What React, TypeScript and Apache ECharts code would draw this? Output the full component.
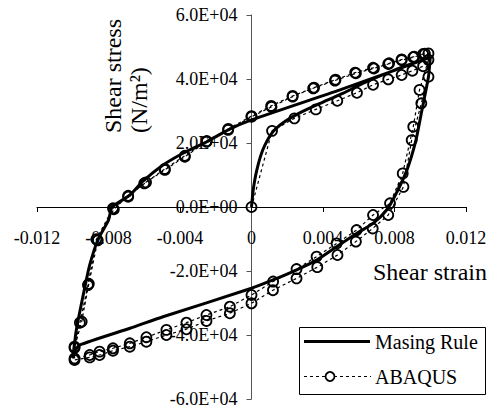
import React, { useEffect, useRef } from "react";
import * as echarts from "echarts";

// ---- axis ticks ----
const xTickLabels = ["-0.012", "-0.008", "-0.004", "0", "0.004", "0.008", "0.012"];
const yTickLabels = ["-6.0E+04", "-4.0E+04", "-2.0E+04", "0.0E+00", "2.0E+04", "4.0E+04", "6.0E+04"];
const xMin = -0.012, xMax = 0.012, xStep = 0.004;
const yMin = -60000, yMax = 60000, yStep = 20000;

// ---- Masing Rule (solid) : [strain, stress] ----
const masingBackbone = [
  [0, 0], [0.0001, 5500], [0.0003, 11600], [0.00063, 17800], [0.00114, 23100],
  [0.00175, 26250], [0.0027, 29400], [0.0038, 32300], [0.0051, 35500],
  [0.0065, 39300], [0.008, 42800], [0.01, 46800],
];
const masingUnload = [
  [0.01, 46800], [0.0099, 40700], [0.0095, 29300], [0.0092, 20900], [0.0087, 11600],
  [0.0081, 4300], [0.00756, -940], [0.0068, -5100], [0.0059, -8200], [0.00476, -12400],
  [0.00364, -16600], [0.0025, -19700], [0.0012, -22800], [0, -25400],
  [-0.00495, -34300], [-0.0068, -37900], [-0.0096, -43100], [-0.0099, -45000], [-0.01, -47300],
];
const masingReload = [
  [-0.01, -47300], [-0.0098, -38400], [-0.0093, -24400], [-0.00905, -18100],
  [-0.0086, -10300], [-0.008, -4100], [-0.0078, 0], [-0.0068, 3750], [-0.0061, 7900],
  [-0.00495, 13100], [-0.00383, 16800], [-0.0025, 20400], [-0.0013, 24100], [0, 27200],
  [0.00495, 36600], [0.008, 42700], [0.01, 46800],
];

// ---- ABAQUS (dashed + circles) : [strain, stress] ----
const abaqusInitial = [
  [0, 0], [0.00115, 23800], [0.0024, 27700], [0.0036, 30500], [0.0048, 33200],
  [0.0059, 35700], [0.0068, 38200], [0.00765, 39900], [0.0084, 41250], [0.009, 42600],
  [0.0096, 44000], [0.0099, 46000],
];
const abaqusUnload1 = [
  [0.0094, 36600], [0.00905, 25100], [0.00846, 10500], [0.00775, 1150], [0.0068, -2500],
  [0.00588, -7200], [0.00476, -11400], [0.00364, -15500], [0.00252, -19400],
  [0.00121, -23300], [0, -27500], [-0.00121, -31150], [-0.00252, -33750],
  [-0.00364, -36150], [-0.00476, -38400], [-0.00588, -40700], [-0.00681, -42600],
  [-0.00775, -44150], [-0.0085, -45200], [-0.00905, -46250], [-0.0099, -47300],
];
const abaqusReload1 = [
  [-0.0099, -43650], [-0.0096, -36150], [-0.00915, -24400], [-0.00868, -10100],
  [-0.00775, -400], [-0.0069, 3200], [-0.006, 7400], [-0.00485, 11600], [-0.00373, 15700],
  [-0.00252, 20400], [-0.00131, 24100], [0, 28200], [0.00112, 31300], [0.0023, 34500],
  [0.00345, 37100], [0.00467, 39500], [0.00584, 41800], [0.00685, 43300],
  [0.00765, 44700], [0.0084, 45900], [0.00905, 46800], [0.0096, 47800], [0.0099, 48000],
];
const abaqusUnload2 = [
  [0.0099, 40700], [0.0095, 32400], [0.00896, 20900], [0.0085, 6300], [0.00765, -2500],
  [0.00678, -6700], [0.00584, -10800], [0.00481, -15000], [0.00368, -18800],
  [0.00252, -22300], [0.0012, -26000], [0, -30100], [-0.00121, -33200],
  [-0.00252, -35600], [-0.00364, -38200], [-0.00476, -40000], [-0.00588, -42100],
  [-0.00681, -43650], [-0.00775, -44900], [-0.0085, -46250], [-0.00905, -47000],
  [-0.0099, -47800],
];
const abaqusReload2 = [
  [-0.0099, -44000], [-0.0095, -35800], [-0.0091, -24000], [-0.0086, -10400],
  [-0.0077, -700], [-0.0069, 3500], [-0.0059, 7700], [-0.00485, 11900], [-0.00373, 16000],
  [-0.0025, 20600], [-0.0013, 24400], [0, 28400], [0.0011, 31600], [0.0023, 34700],
  [0.0035, 37300], [0.0047, 39800], [0.0058, 42000], [0.0068, 43500], [0.0077, 44900],
  [0.0084, 46100], [0.0091, 47000], [0.0097, 47900],
];

const FONT = "'Liberation Serif', 'Times New Roman', serif";
const GRID = { left: 37, right: 26, top: 15, bottom: 13 };
const W = 492, H = 412;

export default function App() {
  const ref = useRef<HTMLDivElement>(null);
  useEffect(() => {
    if (!ref.current) return;
    const chart = echarts.init(ref.current, undefined, { renderer: "svg" });
    const masing = [...masingBackbone, ...masingUnload, ...masingReload];
    const abaqus = [...abaqusInitial, ...abaqusUnload1, ...abaqusReload1, ...abaqusUnload2, ...abaqusReload2];
    const gw = W - GRID.left - GRID.right;
    const gh = H - GRID.top - GRID.bottom;
    // shift axes to the zero lines
    const yOffset = -gw * ((0 - xMin) / (xMax - xMin));
    const xOffset = -gh * ((0 - yMin) / (yMax - yMin));
    chart.setOption({
      animation: false,
      backgroundColor: "#fff",
      grid: { ...GRID, containLabel: false, outerBoundsMode: "none" },
      xAxis: {
        type: "value", min: xMin, max: xMax, interval: xStep, position: "bottom", offset: xOffset,
        axisLine: { onZero: false, lineStyle: { color: "#000", width: 1 } },
        axisTick: { show: true, inside: false, length: 5, lineStyle: { color: "#000" } },
        axisLabel: {
          margin: 22, fontSize: 18, color: "#000", fontFamily: FONT,
          formatter: (v: number) => xTickLabels[Math.round((v - xMin) / xStep)] ?? "",
        },
        splitLine: { show: false },
      },
      yAxis: {
        type: "value", min: yMin, max: yMax, interval: yStep, position: "left", offset: yOffset,
        axisLine: { onZero: false, lineStyle: { color: "#555", width: 1 } },
        axisTick: { show: true, inside: false, length: 5, lineStyle: { color: "#555" } },
        axisLabel: {
          margin: 14, fontSize: 18, color: "#000", fontFamily: FONT,
          formatter: (v: number) => yTickLabels[Math.round((v - yMin) / yStep)] ?? "",
        },
        splitLine: { show: false },
      },
      series: [
        {
          name: "Masing Rule", type: "line", data: masing, showSymbol: false, smooth: 0.2,
          lineStyle: { color: "#000", width: 3 }, itemStyle: { color: "#000" }, z: 2,
        },
        {
          name: "ABAQUS", type: "line", data: abaqus, symbol: "circle", symbolSize: 10,
          lineStyle: { color: "#000", width: 1.2, type: [3, 3] },
          itemStyle: { color: "rgba(0,0,0,0)", borderColor: "#000", borderWidth: 1.8 }, z: 3,
        },
      ],
      graphic: [
        {
          type: "text", x: 125.5, y: 133, rotation: Math.PI / 2,
          style: {
            text: "Shear stress\n(N/m²)", fill: "#000", font: `24px ${FONT}`,
            textAlign: "left", textVerticalAlign: "middle", align: "left", verticalAlign: "middle",
            lineHeight: 26,
          },
        },
        {
          type: "text", x: 373, y: 272,
          style: {
            text: "Shear strain", fill: "#000", font: `24px ${FONT}`,
            textAlign: "left", textVerticalAlign: "middle", align: "left", verticalAlign: "middle",
          },
        },
        {
          type: "group", children: [
            { type: "rect", shape: { x: 299.5, y: 327.5, width: 186, height: 67 }, style: { fill: "#fff", stroke: "#000", lineWidth: 1 } },
            { type: "line", shape: { x1: 304, y1: 341.5, x2: 370, y2: 341.5 }, style: { stroke: "#000", lineWidth: 3 } },
            { type: "line", shape: { x1: 304, y1: 376.5, x2: 371, y2: 376.5 }, style: { stroke: "#000", lineWidth: 1.2, lineDash: [3, 3] } },
            { type: "circle", shape: { cx: 330, cy: 376.5, r: 4.5 }, style: { fill: "#fff", stroke: "#000", lineWidth: 1.8 } },
            { type: "text", x: 375, y: 342, style: { text: "Masing Rule", fill: "#000", font: `20px ${FONT}`, textAlign: "left", textVerticalAlign: "middle", align: "left", verticalAlign: "middle" } },
            { type: "text", x: 375, y: 377, style: { text: "ABAQUS", fill: "#000", font: `20px ${FONT}`, textAlign: "left", textVerticalAlign: "middle", align: "left", verticalAlign: "middle" } },
          ],
        },
      ],
    });
    return () => chart.dispose();
  }, []);
  return <div ref={ref} style={{ position: "absolute", left: 0, top: 0, width: W, height: H }} />;
}
